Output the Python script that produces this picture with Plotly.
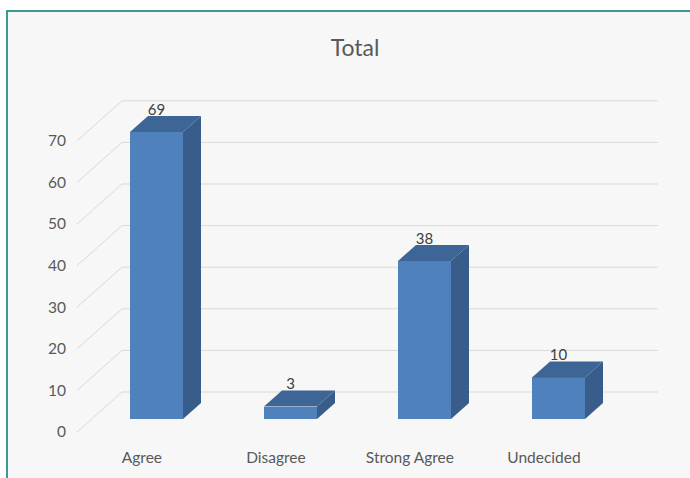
import plotly.graph_objects as go

# Survey responses
categories = ["Agree", "Disagree", "Strong Agree", "Undecided"]
counts = [69, 3, 38, 10]
y_ticks = [0, 10, 20, 30, 40, 50, 60, 70]
title_text = "Total"

W, H = 690, 478
# pixel scale of the drawing: one category step and one value unit
PX_CAT = 134.0
PX_VAL = 4.16
X0_PX = 156.5   # x pixel of first bar centre (front face)
Y0_PX = 419.0   # y pixel of the bar front baseline

def dx(px):
    return px / PX_CAT

def dy(px):
    return px / PX_VAL

x_range = [(0 - X0_PX) / PX_CAT, (W - X0_PX) / PX_CAT]
y_range = [(Y0_PX - H) / PX_VAL, Y0_PX / PX_VAL]

# 3-D geometry offsets (in data units)
BAR_W = dx(53)
BAR_DX, BAR_DY = dx(18), dy(16)           # bar depth
WALL_DX, WALL_DY = dx(30.4), dy(27)       # bar front plane -> back wall
FRONT_DX, FRONT_DY = -dx(14.6), -dy(13)   # bar front plane -> axis front plane
GRID_RIGHT = (658 - X0_PX) / PX_CAT

FRONT_COL = "#4f81bd"
TOP_COL = "#3d6595"
SIDE_COL = "#395d8a"
GRID_COL = "#d9d9d9"
TEXT_COL = "#595959"
FONT = "Lato"

fig = go.Figure()

# back-wall gridlines and diagonal guides, kept beneath the bars
front_left = (77 - X0_PX) / PX_CAT
back_left = front_left + (WALL_DX - FRONT_DX)
shapes = [dict(type="rect", xref="paper", yref="paper", x0=7 / W, x1=1.02, y0=-0.02, y1=1 - 11 / H,
               line=dict(color="#3a9a94", width=2), fillcolor="#f7f7f7", layer="below")]
for v in y_ticks:
    shapes.append(dict(type="line", xref="x", yref="y", x0=back_left, x1=GRID_RIGHT,
                       y0=v + WALL_DY, y1=v + WALL_DY, line=dict(color=GRID_COL, width=1), layer="below"))
    shapes.append(dict(type="line", xref="x", yref="y", x0=front_left, x1=back_left,
                       y0=v + FRONT_DY, y1=v + WALL_DY, line=dict(color=GRID_COL, width=1), layer="below"))

# bars: front face, top face, right side face
xs = list(range(len(categories)))
fig.add_trace(go.Bar(x=xs, y=counts, base=0, width=BAR_W, marker=dict(color=FRONT_COL, line=dict(width=0)),
                     hoverinfo="skip", showlegend=False))
tx, ty, sx, sy = [], [], [], []
for i, v in zip(xs, counts):
    xl, xr = i - BAR_W / 2, i + BAR_W / 2
    tx += [xl, xr, xr + BAR_DX, xl + BAR_DX, xl, None]
    ty += [v, v, v + BAR_DY, v + BAR_DY, v, None]
    sx += [xr, xr, xr + BAR_DX, xr + BAR_DX, xr, None]
    sy += [0, v, v + BAR_DY, BAR_DY, 0, None]
fig.add_trace(go.Scatter(x=sx, y=sy, mode="lines", fill="toself", fillcolor=SIDE_COL,
                         line=dict(width=0, color=SIDE_COL), hoverinfo="skip", showlegend=False))
fig.add_trace(go.Scatter(x=tx, y=ty, mode="lines", fill="toself", fillcolor=TOP_COL,
                         line=dict(width=0, color=TOP_COL), hoverinfo="skip", showlegend=False))

# value labels above each bar
fig.add_trace(go.Scatter(x=xs, y=[v + BAR_DY + dy(5) for v in counts], mode="text",
                         text=[str(v) for v in counts], textposition="middle center",
                         textfont=dict(family=FONT, size=15, color="#404040"),
                         hoverinfo="skip", showlegend=False))

# invisible anchors for the tick-label axes
fig.add_trace(go.Scatter(x=xs, y=[0] * len(xs), xaxis="x2", yaxis="y", mode="markers",
                         marker=dict(opacity=0), hoverinfo="skip", showlegend=False))
fig.add_trace(go.Scatter(x=[0] * len(y_ticks), y=y_ticks, xaxis="x", yaxis="y2", mode="markers",
                         marker=dict(opacity=0), hoverinfo="skip", showlegend=False))

fig.update_layout(
    width=W, height=H,
    margin=dict(l=0, r=0, t=0, b=0),
    paper_bgcolor="white",
    plot_bgcolor="rgba(0,0,0,0)",
    font=dict(family=FONT, color=TEXT_COL),
    title=dict(text=title_text, x=355 / W, y=1 - 48 / H, xanchor="center", yanchor="middle",
               font=dict(family=FONT, size=23, color=TEXT_COL)),
    xaxis=dict(range=x_range, visible=False, fixedrange=True),
    yaxis=dict(range=y_range, visible=False, fixedrange=True),
    xaxis2=dict(range=[r - FRONT_DX for r in x_range], overlaying="x", anchor="free",
                position=1 - 446 / H, side="bottom", tickmode="array", tickvals=xs,
                ticktext=categories, showgrid=False, zeroline=False, showline=False, ticks="",
                tickfont=dict(family=FONT, size=15.5, color=TEXT_COL), fixedrange=True),
    yaxis2=dict(range=[r - FRONT_DY for r in y_range], overlaying="y", anchor="free",
                position=66 / W, side="left", tickmode="array", tickvals=y_ticks,
                showgrid=False, zeroline=False, showline=False, ticks="",
                tickfont=dict(family=FONT, size=15.5, color=TEXT_COL), fixedrange=True),
    shapes=shapes,
    bargap=0,
)

fig.write_html("out.html")
